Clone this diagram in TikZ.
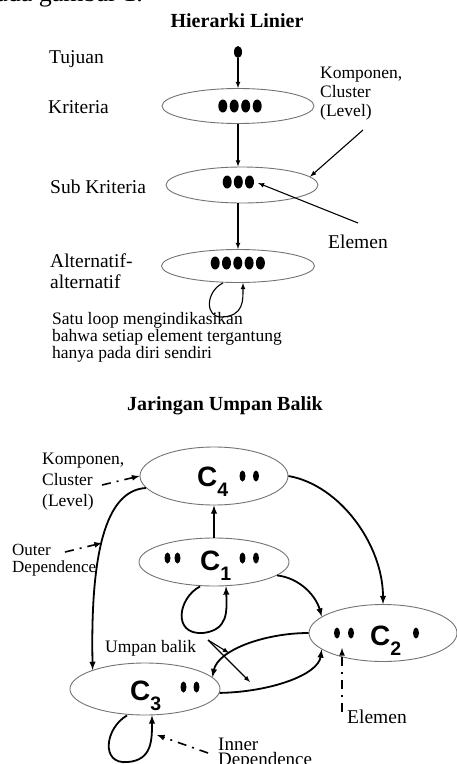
\documentclass[tikz,border=0pt]{standalone}
\usepackage{fontspec}
\setmainfont{Liberation Serif}
\newfontfamily\clfont{Liberation Sans}
\usetikzlibrary{shapes.geometric}
\newcommand\fsz[2]{\fontsize{#1}{#2}\selectfont}
\newcommand\csub[1]{\raisebox{-10pt}{\fsz{19.5}{19.5}#1}}

\tikzset{
  lvl/.style={draw=black!55, line width=0.9pt, ellipse, inner sep=0pt},
  lab/.style={anchor=base west, inner sep=0pt, align=left},
  ttl/.style={anchor=base, inner sep=0pt, font=\fsz{20}{20}\bfseries},
  clab/.style={anchor=base west, inner sep=0pt, font=\clfont\bfseries\fsz{28}{28}},
  arr/.style={line width=1.1pt, -latex},
  link/.style={line width=1.8pt, -latex},
  dd/.style={line width=1.6pt, -latex, dash pattern=on 9pt off 6pt on 2pt off 6pt},
}

\begin{document}
\begin{tikzpicture}[x=1pt,y=-1pt]
        \useasboundingbox (0,0) rectangle (457,764);
        % Cut-off line of the text above
        \node[anchor=base east, inner sep=0pt, font=\fsz{26}{26}] (prev) at (143,1) {pada gambar 1.};

        % Linear hierarchy
        \node[ttl] (t1) at (237,27) {Hierarki Linier};
        \node[fill, ellipse, minimum width=8pt, minimum height=12pt, inner sep=0pt] (goal) at (238,52) {};
        \node[lvl, minimum width=152pt, minimum height=35pt] (kri) at (238,106) {};
        \node[lvl, minimum width=152pt, minimum height=36pt] (sub) at (242,185) {};
        \node[lvl, minimum width=153pt, minimum height=33pt] (alt) at (238,266) {};
        \foreach \x in {222.8,234.2,245.7,257.2} \fill (\x,106) ellipse (4.5 and 6.5);
        \foreach \x in {227.2,238.3,249.5} \fill (\x,182) ellipse (4.5 and 6.5);
        \foreach \x in {215.2,226.5,237.8,249.1,260.4} \fill (\x,263) ellipse (4.5 and 6.5);
        \draw[arr] (goal) -- (kri);
        \draw[arr] (kri.south) -- (kri.south |- sub.north);
        \draw[arr] (alt.north |- sub.south) -- (alt.north);
        \draw[arr] ([xshift=-15pt]alt.south) .. controls (205,292) and (205,318) .. (222,317)
              .. controls (244,316) and (243,300) .. ([xshift=5pt]alt.south);
        % Labels (multi-line ones sit on their last baseline)
        \node[lab, font=\fsz{19.5}{21}] (tuj) at (49,63) {Tujuan};
        \node[lab, font=\fsz{19.5}{21}] (lkri) at (48,113) {Kriteria};
        \node[lab, font=\fsz{19.5}{21}] (lsub) at (50,193) {Sub Kriteria};
        \node[lab, font=\fsz{19.5}{21}] (lalt) at (50,288) {Alternatif-\\alternatif};
        \node[lab, font=\fsz{17.5}{19}] (komp1) at (320,116) {Komponen,\\Cluster\\(Level)};
        \node[lab, font=\fsz{19.5}{21}] (elem1) at (328,248) {Elemen};
        \node[lab, font=\fsz{17.5}{14}] (loop1) at (52,358) {Satu loop mengindikasikan\\bahwa setiap element tergantung\\hanya pada diri sendiri};
        \coordinate (k1) at (363,130);
        \draw[arr] (k1) -- (sub.7);
        \coordinate (e1) at (358,223);
        \coordinate (e1end) at (258,183);
        \draw[arr] (e1) -- (e1end);

        % Feedback network
        \node[ttl] (t2) at (225,410) {Jaringan Umpan Balik};
        \node[lvl, minimum width=148pt, minimum height=58pt] (c4) at (214,476) {};
        \node[lvl, minimum width=150pt, minimum height=48pt] (c1) at (214,562) {};
        \node[lvl, minimum width=148pt, minimum height=57pt] (c2) at (383,633) {};
        \node[lvl, minimum width=150pt, minimum height=52pt] (c3) at (145,689) {};
        \node[clab] (c4t) at (197,486) {C\csub{4}};
        \node[clab] (c1t) at (200,570) {C\csub{1}};
        \node[clab] (c2t) at (370,645) {C\csub{2}};
        \node[clab] (c3t) at (130,700) {C\csub{3}};
        \foreach \x/\y in {242.5/476,256/476,167.5/558,177.5/558,242.5/558,256/558,337/633,351/633,416/633,183.5/687,196.5/687}
            \fill (\x,\y) ellipse (3 and 5.5);
        % Dependences
        \draw[link] (c1) -- (c4);
        \draw[link] (c4.east) .. controls (340,485) and (383,545) .. (c2.north);
        \draw[link] (c1.-12) .. controls (300,578) and (316,596) .. (c2.165);
        \draw[link] (c4.190) .. controls (110,490) and (90,540) .. (c3.160);
        \draw[link] (c2.west) .. controls (265,633) and (218,650) .. (c3.10);
        \draw[link] (c3.-3) .. controls (270,692) and (318,675) .. (c2.195);
        \draw[link] ([xshift=-14pt]c1.south) .. controls (178,598) and (172,635) .. (203,633)
              .. controls (228,630) and (227,612) .. ([xshift=12pt]c1.south);
        \draw[link] ([xshift=-18pt]c3.south) .. controls (105,728) and (100,765) .. (128,762)
              .. controls (152,760) and (152,740) .. ([xshift=7pt]c3.south);
        % Labels
        \node[lab, font=\fsz{17.5}{21}] (komp2) at (42,506) {Komponen,\\Cluster\\(Level)};
        \node[lab, font=\fsz{17}{17}] (outer) at (12,572) {Outer\\Dependence};
        \node[lab, font=\fsz{17.5}{17}] (ub) at (105,652) {Umpan balik};
        \node[lab, font=\fsz{19.5}{21}] (elem2) at (347,723) {Elemen};
        \node[lab, font=\fsz{19}{15}] (inner) at (218,765) {Inner\\Dependence};
        \coordinate (kd) at (102,485);
        \draw[dd] (kd) -- (c4.west);
        \coordinate (od1) at (65,552);
        \coordinate (od2) at (102,543);
        \draw[dd] (od1) -- (od2);
        \coordinate (ed1) at (342,712);
        \coordinate (ed2) at (342,648);
        \draw[dd] (ed1) -- (ed2);
        \coordinate (id1) at (208,753);
        \coordinate (id2) at (157,735);
        \draw[dd] (id1) -- (id2);
        \coordinate (ub0) at (208,640);
        \coordinate (ub1) at (229,653);
        \coordinate (ub2) at (250,682);
        \draw[arr] (ub0) -- (ub1);
        \draw[arr] (ub0) -- (ub2);
\end{tikzpicture}
\end{document}
